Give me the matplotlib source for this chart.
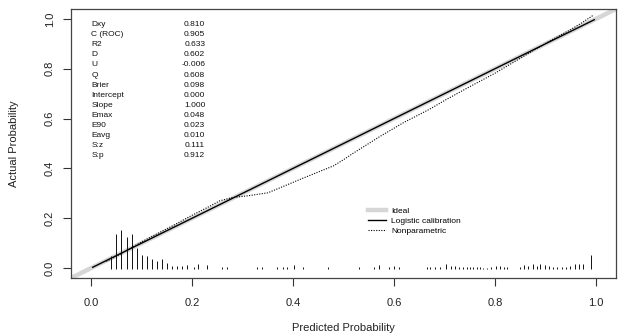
import matplotlib
matplotlib.use("Agg")
import matplotlib.pyplot as plt
from matplotlib.lines import Line2D

plt.rcParams['font.family'] = ['Liberation Sans', 'DejaVu Sans']

# ---- data ----
stat_names = ["Dxy", "C (ROC)", "R2", "D", "U", "Q", "Brier", "Intercept",
              "Slope", "Emax", "E90", "Eavg", "S:z", "S:p"]
stat_values = ["0.810", "0.905", "0.633", "0.602", "-0.006", "0.608", "0.098",
               "0.000", "1.000", "0.048", "0.023", "0.010", "0.111", "0.912"]

logit_x = [0.003, 0.997]
logit_y = [0.003, 0.997]

np_x = [0.03, 0.05, 0.08, 0.10, 0.13, 0.16, 0.20, 0.23, 0.255, 0.28, 0.31,
        0.35, 0.374, 0.414, 0.453, 0.48, 0.50, 0.52, 0.55, 0.572, 0.62, 0.67,
        0.704, 0.75, 0.80, 0.836, 0.875, 0.91, 0.95, 0.975, 0.995]
np_y = [0.027, 0.047, 0.082, 0.105, 0.137, 0.168, 0.212, 0.243, 0.270, 0.283,
        0.290, 0.302, 0.322, 0.356, 0.388, 0.410, 0.435, 0.462, 0.500, 0.528,
        0.585, 0.637, 0.677, 0.728, 0.782, 0.825, 0.872, 0.913, 0.957, 0.988,
        1.015]

spike_x = [0.04, 0.05, 0.06, 0.07, 0.08, 0.09, 0.10, 0.11, 0.12, 0.13, 0.14,
           0.15, 0.16, 0.17, 0.18, 0.19, 0.203, 0.211, 0.229, 0.259, 0.270,
           0.328, 0.338, 0.369, 0.380, 0.389, 0.401, 0.420, 0.470, 0.531,
           0.560, 0.571, 0.591, 0.600, 0.610,
           0.665, 0.671, 0.681, 0.691, 0.704, 0.714, 0.721, 0.729, 0.737,
           0.744, 0.750, 0.757, 0.764, 0.770, 0.777, 0.784, 0.793, 0.802,
           0.810, 0.818, 0.824, 0.850, 0.857, 0.866, 0.875, 0.883, 0.890,
           0.899, 0.908, 0.915, 0.923, 0.932, 0.941, 0.949, 0.958, 0.967,
           0.975, 0.991]
spike_h = [0.051, 0.140, 0.154, 0.127, 0.138, 0.084, 0.054, 0.051, 0.040,
           0.031, 0.040, 0.021, 0.011, 0.011, 0.011, 0.013, 0.006, 0.020,
           0.016, 0.006, 0.006, 0.006, 0.006, 0.006, 0.006, 0.008, 0.016,
           0.006, 0.006, 0.006, 0.006, 0.016, 0.008, 0.012, 0.006,
           0.006, 0.006, 0.008, 0.008, 0.020, 0.010, 0.010, 0.006, 0.006,
           0.006, 0.006, 0.006, 0.006, 0.006, 0.004, 0.004, 0.008, 0.010,
           0.010, 0.006, 0.006, 0.008, 0.016, 0.010, 0.020, 0.010, 0.020,
           0.016, 0.010, 0.008, 0.006, 0.006, 0.008, 0.012, 0.018, 0.018,
           0.020, 0.055]

xticks = [0.0, 0.2, 0.4, 0.6, 0.8, 1.0]
yticks = [0.0, 0.2, 0.4, 0.6, 0.8, 1.0]

# ---- figure ----
W, H = 624, 336
fig = plt.figure(figsize=(W / 100, H / 100), dpi=100)
L, R, T, B = 71, 616, 9, 278
ax = fig.add_axes([L / W, 1 - B / H, (R - L) / W, (B - T) / H])
ax.set_xlim(-0.04, 1.04)
ax.set_ylim(-0.04, 1.04)

# ideal
ax.plot([-0.04, 1.04], [-0.04, 1.04], color="#d6d6d6", lw=3.2,
        solid_capstyle="butt", zorder=1)
# logistic
ax.plot(logit_x, logit_y, color="black", lw=1.0, zorder=3)
# nonparametric
ax.plot(np_x, np_y, color="black", lw=0.8, linestyle=(0, (1, 1.3)), zorder=3)
# spikes
ax.vlines(spike_x, -0.002, [h - 0.002 for h in spike_h], color="#111111",
          lw=0.7, zorder=2)

# stats text
y0, dy = 0.976, 0.0402
for i, (n, v) in enumerate(zip(stat_names, stat_values)):
    ax.text(0.0, y0 - i * dy, n, fontsize=6, ha="left", va="center", color="#111111")
    ax.text(0.226, y0 - i * dy, v, fontsize=6, ha="right", va="center", color="#111111")

# legend
handles = [Line2D([], [], color="#d6d6d6", lw=3.2),
           Line2D([], [], color="black", lw=1.0),
           Line2D([], [], color="black", lw=0.8, linestyle=(0, (1, 1.3)))]
labels = ["Ideal", "Logistic calibration", "Nonparametric"]
lx = (368 - L) / (R - L)
ly = (B - 207) / (B - T)
ax.legend(handles, labels, loc="upper left", bbox_to_anchor=(lx, ly),
          frameon=False, fontsize=6, handlelength=2.2, handletextpad=0.6,
          labelspacing=0.25, borderpad=0, borderaxespad=0)

ax.set_xticks(xticks)
ax.set_xticklabels([f"{t:.1f}" for t in xticks], fontsize=8, color="#222222")
ax.set_yticks(yticks)
ax.set_yticklabels([f"{t:.1f}" for t in yticks], fontsize=8, rotation=90,
                   va="center", color="#222222")
ax.tick_params(axis="x", direction="out", length=5.5, width=0.8, pad=9,
               colors="#333333", labelcolor="#222222")
ax.tick_params(axis="y", direction="out", length=5.5, width=0.8, pad=6,
               colors="#333333", labelcolor="#222222")
for s in ax.spines.values():
    s.set_linewidth(0.9)
    s.set_color("#444444")

ax.set_xlabel("Predicted Probability", fontsize=8, labelpad=11, color="#222222")
ax.set_ylabel("Actual Probability", fontsize=8, labelpad=19, color="#222222")

fig.savefig("out.png", dpi=100)
